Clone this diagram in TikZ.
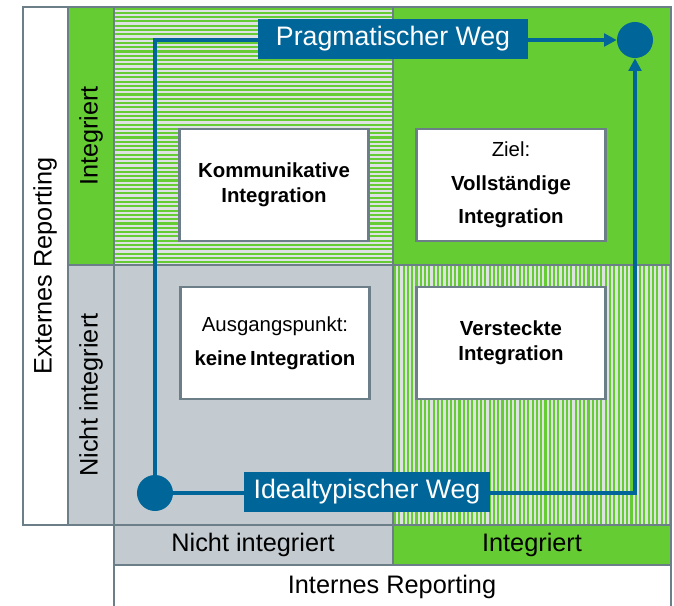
\documentclass[tikz,border=0pt]{standalone}
\usepackage{fontspec}
\setmainfont{Liberation Sans}
\usetikzlibrary{positioning,arrows.meta}
\definecolor{grgreen}{RGB}{102,204,51}
\definecolor{grgrey}{RGB}{195,203,208}
\definecolor{rahmen}{RGB}{108,126,136}
\definecolor{wegblue}{RGB}{0,102,153}
\definecolor{streifen}{RGB}{222,226,226}

\begin{document}
\begin{tikzpicture}[x=0.025cm,y=-0.025cm,
				linie/.style={draw=rahmen, line width=1.8pt},
				achse/.style={inner sep=0, font=\fontsize{18}{20}\selectfont},
				feld/.style={draw=rahmen, line width=2pt, fill=white, minimum width=4.72cm, minimum height=2.8cm, align=center, inner sep=0, font=\fontsize{14.5}{18}\selectfont},
				weit/.style={font=\fontsize{14.5}{24}\selectfont},
				weg/.style={fill=wegblue, text=white, inner sep=0, minimum height=1cm, font=\fontsize{19}{22}\selectfont},
				punkt/.style={circle, fill=wegblue, draw=none, inner sep=0, minimum size=0.9cm}]

				\useasboundingbox (0,0) rectangle (674,605);

				\fill[streifen] (114,7) rectangle (393,265);
				\begin{scope}
				\clip (114,7) rectangle (393,265);
				\foreach \y in {8.5,12.8,...,266}
				\draw[grgreen, line width=1.5pt] (114,\y) -- (393,\y);
				\end{scope}
				\fill[grgreen] (393,7) rectangle (671,265);
				\fill[grgrey] (114,265) rectangle (393,525);
				\fill[streifen] (393,265) rectangle (671,525);
				\begin{scope}
				\clip (393,265) rectangle (671,525);
				\foreach \x in {395,399.3,...,672}
				\draw[grgreen, line width=1.5pt] (\x,265) -- (\x,525);
				\end{scope}
				\fill[grgreen] (68,7) rectangle (114,265);
				\fill[grgrey] (68,265) rectangle (114,525);
				\fill[grgrey] (114,525) rectangle (393,565);
				\fill[grgreen] (393,525) rectangle (671,565);

				\draw[linie] (23,7) rectangle (671,525);
				\draw[linie] (68,7) -- (68,525);
				\draw[linie] (114,7) -- (114,607);
				\draw[linie] (393,7) -- (393,565);
				\draw[linie] (68,265) -- (671,265);
				\draw[linie] (114,565) -- (671,565);
				\draw[linie] (671,525) -- (671,607);

				\node [achse,rotate=90] (extern) at (45,266) {Externes Reporting};
				\node [achse,rotate=90] (yint) at (91,136) {Integriert};
				\node [achse,rotate=90] (ynicht) at (91,395) {Nicht integriert};
				\node [achse] (xnicht) at (253,545) {Nicht integriert};
				\node [achse] (xint) at (532,545) {Integriert};
				\node [achse] (intern) at (392,587) {Internes Reporting};

				\node [feld] (komm) at (274,185) {\textbf{Kommunikative}\\\textbf{Integration}};
				\node [feld,weit] (ziel) at (511,185) {Ziel:\\\textbf{Vollständige}\\\textbf{Integration}};
				\node [feld,weit] (ausgang) at (275,343) {Ausgangspunkt:\\\textbf{keine\,Integration}};
				\node [feld] (versteckt) at (511,343) {\textbf{Versteckte}\\\textbf{Integration}};

				\node [punkt] (start) at (155,493) {};
				\node [punkt] (ende) at (635,40) {};
				\begin{scope}[draw=wegblue, line width=2.2pt, -{Triangle[length=9pt,width=9pt]}]
				\draw (start) |- (ende);
				\draw (start) -| (ende);
				\end{scope}
				\node [weg, minimum width=6.75cm] (prag) at (393,39) {Pragmatischer Weg};
				\node [weg, minimum width=6.15cm] (ideal) at (367,492) {Idealtypischer Weg};
				\end{tikzpicture}
\end{document}
